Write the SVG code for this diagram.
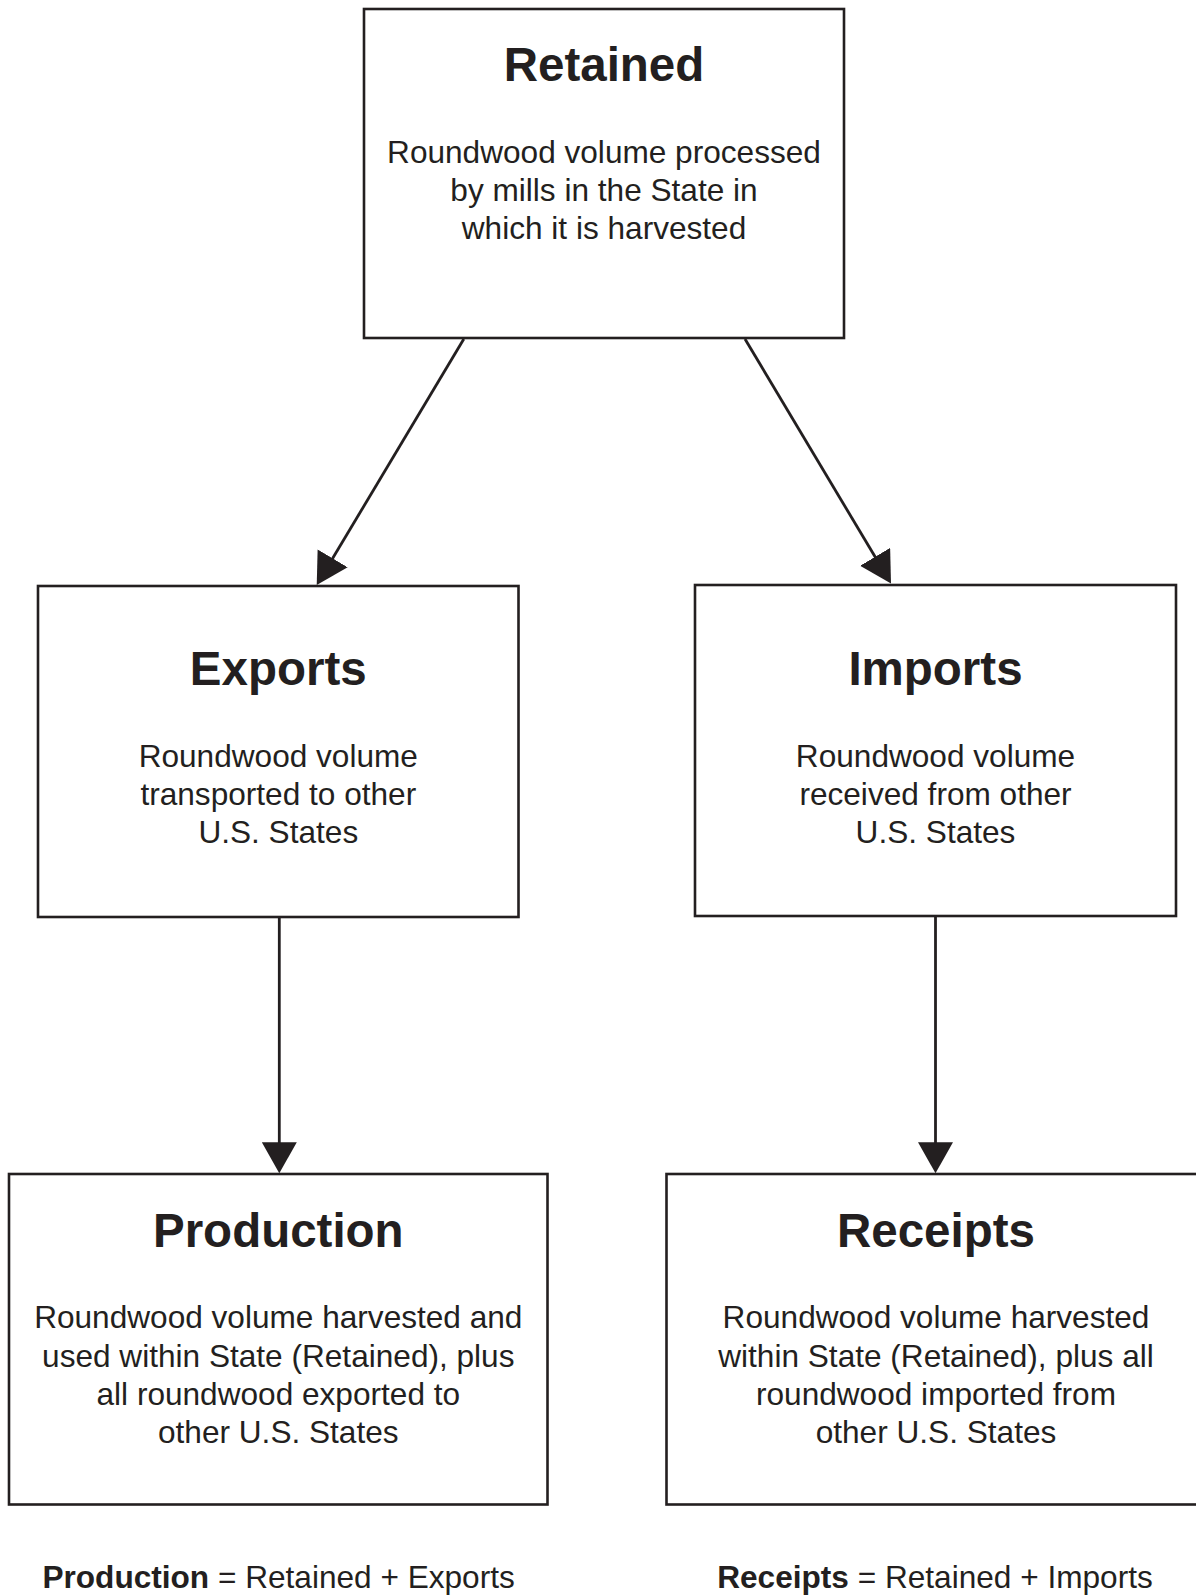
<svg xmlns="http://www.w3.org/2000/svg" width="1196" height="1596" viewBox="0 0 1196 1596">
<style>
.box{fill:#fff;stroke:#231f20;stroke-width:2.6}
.title{font-family:"Liberation Sans",Arial,sans-serif;font-weight:bold;font-size:47.5px;fill:#231f20;text-anchor:middle}
.body{font-family:"Liberation Sans",Arial,sans-serif;font-size:31.6px;fill:#231f20;text-anchor:middle}
.conn{stroke:#231f20;stroke-width:2.8;fill:none;marker-end:url(#ah)}
.b{font-weight:bold}
</style>
<defs>
<marker id="ah" markerUnits="userSpaceOnUse" markerWidth="32" markerHeight="36" refX="11" refY="17.5" orient="auto">
<path d="M0,0 L31,17.5 L0,35 Z" fill="#231f20"/>
</marker>
</defs>
<rect width="1196" height="1596" fill="#fff"/>
<g id="connectors">
<line class="conn" x1="463.8" y1="339" x2="327" y2="567.8"/>
<line class="conn" x1="745" y1="339" x2="880.75" y2="566.3"/>
<line class="conn" x1="279.3" y1="917.5" x2="279.3" y2="1153.3"/>
<line class="conn" x1="935.5" y1="916" x2="935.5" y2="1153.3"/>
</g>
<g id="retained">
<rect class="box" x="364" y="9" width="480" height="329"/>
<text class="title" x="604" y="81">Retained</text>
<text class="body" x="604" y="162.7">Roundwood volume processed</text>
<text class="body" x="604" y="201">by mills in the State in</text>
<text class="body" x="604" y="239.3">which it is harvested</text>
</g>
<g id="exports">
<rect class="box" x="38" y="586" width="480.5" height="331"/>
<text class="title" x="278.3" y="685">Exports</text>
<text class="body" x="278.3" y="766.5">Roundwood volume</text>
<text class="body" x="278.3" y="805">transported to other</text>
<text class="body" x="278.3" y="843.3">U.S. States</text>
</g>
<g id="imports">
<rect class="box" x="695" y="585" width="481" height="331"/>
<text class="title" x="935.5" y="685">Imports</text>
<text class="body" x="935.5" y="766.5">Roundwood volume</text>
<text class="body" x="935.5" y="805">received from other</text>
<text class="body" x="935.5" y="843.3">U.S. States</text>
</g>
<g id="production">
<rect class="box" x="9" y="1174" width="538.5" height="330.5"/>
<text class="title" x="278.3" y="1246.7">Production</text>
<text class="body" x="278.3" y="1328.3">Roundwood volume harvested and</text>
<text class="body" x="278.3" y="1366.7">used within State (Retained), plus</text>
<text class="body" x="278.3" y="1405">all roundwood exported to</text>
<text class="body" x="278.3" y="1443.3">other U.S. States</text>
</g>
<g id="receipts">
<rect class="box" x="666.5" y="1174" width="539" height="330.5"/>
<text class="title" x="936" y="1246.7">Receipts</text>
<text class="body" x="936" y="1328.3">Roundwood volume harvested</text>
<text class="body" x="936" y="1366.7">within State (Retained), plus all</text>
<text class="body" x="936" y="1405">roundwood imported from</text>
<text class="body" x="936" y="1443.3">other U.S. States</text>
</g>
<g id="formula-production">
<text class="body" x="278.6" y="1588"><tspan class="b">Production</tspan> = Retained + Exports</text>
</g>
<g id="formula-receipts">
<text class="body" x="935" y="1588"><tspan class="b">Receipts</tspan> = Retained + Imports</text>
</g>
</svg>
